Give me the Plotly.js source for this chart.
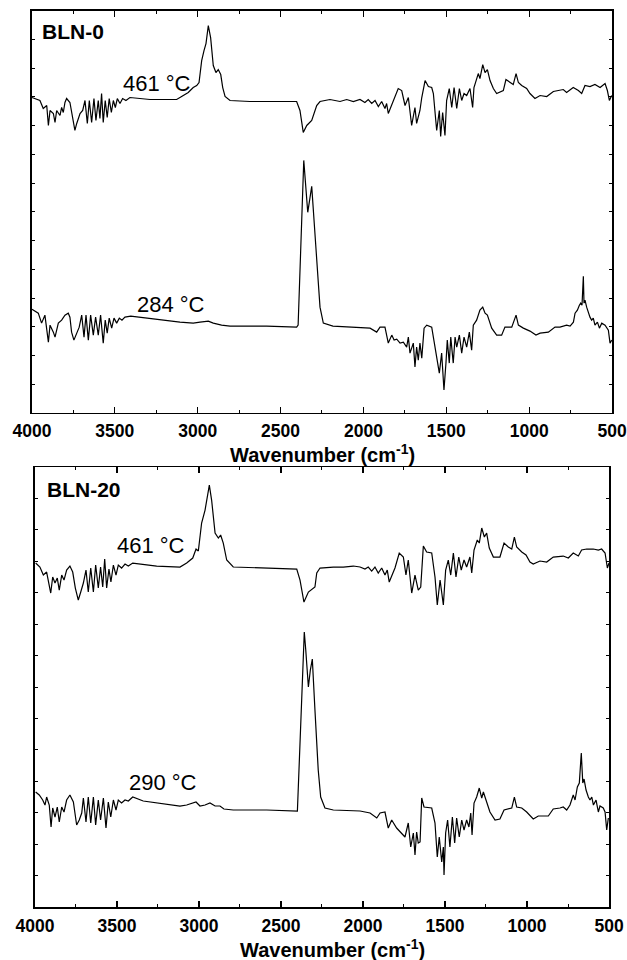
<!DOCTYPE html>
<html>
<head>
<meta charset="utf-8">
<script src="https://cdn.plot.ly/plotly-3.0.1.min.js"></script>
<style>html,body{margin:0;padding:0;background:#fff;}#chart{width:627px;height:960px;}</style>
</head>
<body>
<div id="chart"></div>
<script>
// ---------- BLN-0 panel ----------
var bln0_461_wn = [4000,3952,3932,3911,3901,3891,3871,3861,3851,3831,3821,3811,3801,3791,3771,3754,3741,3730,3710,3694,3680,3666,3654,3640,3626,3614,3600,3590,3580,3570,3558,3546,3534,3521,3509,3497,3485,3469,3453,3433,3409,3288,3127,3097,3057,3027,3006,2992,2976,2962,2950,2936,2922,2906,2890,2876,2861,2849,2835,2805,2685,2403,2383,2363,2342,2312,2302,2282,2262,2202,2141,2101,2061,2021,1991,1971,1950,1930,1910,1890,1870,1860,1850,1820,1790,1769,1749,1729,1709,1689,1679,1659,1648,1628,1608,1588,1578,1558,1542,1534,1522,1508,1498,1482,1467,1453,1437,1421,1407,1393,1377,1357,1341,1333,1307,1297,1280,1266,1252,1236,1216,1196,1156,1140,1116,1096,1079,1065,1045,1015,995,965,934,894,854,794,774,734,703,683,663,633,603,572,542,528,516,502];
var bln0_461_ab = [316,313,305,308,288,303,300,291,303,298,306,301,311,315,311,293,283,290,300,303,313,290,313,291,315,293,313,295,320,291,313,296,315,301,313,306,315,310,315,313,316,314,314,317,321,326,328,331,353,363,370,388,376,348,341,344,339,326,317,313,312,312,303,281,288,293,298,308,312,314,312,314,312,314,311,314,310,313,307,312,305,310,300,313,325,323,308,316,288,306,290,303,316,333,327,326,320,283,303,277,301,278,313,325,306,326,305,325,313,320,318,325,306,326,340,335,349,341,344,333,325,320,323,334,331,329,340,331,328,325,320,315,318,317,322,324,321,326,323,320,328,327,329,326,330,323,313,318];

var bln0_284_wn = [4000,3962,3942,3922,3901,3891,3871,3861,3841,3821,3801,3781,3771,3761,3747,3730,3715,3700,3686,3674,3660,3646,3630,3616,3600,3586,3570,3558,3546,3534,3519,3505,3489,3473,3457,3439,3404,3107,3027,2986,2936,2906,2856,2805,2584,2403,2394,2360,2336,2312,2292,2272,2262,2242,2184,2021,1960,1920,1900,1870,1850,1829,1815,1799,1779,1759,1739,1729,1719,1699,1689,1679,1669,1659,1648,1634,1618,1588,1578,1558,1542,1528,1514,1502,1494,1482,1473,1458,1447,1437,1421,1407,1393,1377,1361,1347,1337,1317,1297,1280,1266,1252,1226,1196,1166,1146,1105,1079,1065,1035,995,959,934,884,844,814,774,753,733,723,709,697,689,681,673,669,663,653,643,633,623,613,603,588,576,562,542,522,512,502];
var bln0_284_ab = [104,100,90,98,71,88,81,76,90,93,98,100,96,81,73,80,86,98,76,98,73,98,78,96,78,98,70,93,80,95,85,95,90,95,93,96,97,91,90,91,92,90,88,87,87,86,88,253,201,227,173,130,106,90,87,86,85,81,86,86,70,78,73,74,70,71,66,76,60,70,46,66,53,70,55,85,88,86,76,56,40,60,23,50,73,50,76,50,76,66,78,60,76,66,81,63,88,93,103,106,100,98,85,78,78,86,86,98,88,85,82,78,80,81,86,86,88,87,91,100,103,108,110,108,137,110,113,106,100,96,93,95,88,91,85,90,88,83,70,73];

// ---------- BLN-20 panel ----------
var bln20_461_wn = [3996,3970,3949,3929,3904,3892,3878,3864,3852,3837,3823,3807,3787,3770,3754,3736,3721,3705,3689,3675,3660,3644,3630,3614,3600,3587,3575,3563,3549,3537,3522,3506,3492,3472,3451,3431,3404,3258,3116,3075,3038,3018,3004,2984,2963,2937,2923,2902,2882,2868,2852,2831,2791,2587,2404,2384,2360,2333,2293,2282,2262,2181,2120,2059,2018,1988,1968,1947,1927,1907,1886,1866,1852,1840,1805,1779,1754,1738,1724,1703,1683,1663,1648,1632,1612,1581,1561,1547,1530,1510,1496,1480,1465,1449,1433,1416,1401,1384,1368,1348,1337,1323,1303,1291,1276,1260,1246,1230,1205,1165,1140,1114,1093,1077,1063,1032,1006,982,962,921,880,840,779,748,718,687,667,636,596,565,545,524,510,500];
var bln20_461_ab = [344,340,332,335,314,330,324,329,317,332,327,337,341,335,319,307,315,324,337,315,339,315,342,319,340,320,348,319,338,325,342,332,342,339,343,341,344,341,340,344,349,358,356,384,397,422,407,374,369,372,364,347,340,339,338,327,305,315,320,334,339,340,340,341,340,338,340,336,340,334,339,332,337,325,339,354,350,332,347,314,332,317,320,361,355,354,330,302,327,302,337,347,332,354,330,350,337,347,340,350,334,357,367,364,379,370,374,359,350,350,364,360,358,370,360,355,352,345,343,346,345,350,351,349,354,351,357,358,358,357,358,354,339,344];

var bln20_290_wn = [3996,3974,3953,3939,3929,3913,3902,3892,3878,3864,3852,3837,3823,3807,3787,3766,3746,3730,3715,3705,3689,3675,3660,3644,3630,3614,3600,3583,3567,3553,3538,3522,3506,3492,3472,3451,3431,3404,3340,3238,3116,3075,3018,2994,2963,2933,2902,2872,2848,2791,2587,2400,2358,2349,2333,2321,2309,2293,2287,2273,2258,2232,2181,2018,1957,1916,1896,1866,1846,1825,1795,1774,1744,1724,1709,1693,1683,1673,1663,1652,1642,1628,1581,1561,1547,1535,1520,1510,1506,1496,1484,1470,1455,1441,1429,1413,1398,1384,1368,1354,1343,1335,1323,1307,1291,1276,1266,1250,1226,1195,1165,1140,1093,1077,1063,1032,1002,962,931,870,840,799,779,758,738,718,707,693,681,669,660,652,640,626,616,605,595,579,565,555,535,524,514,504];
var bln20_290_ab = [115,112,107,102,110,102,80,99,90,100,85,100,95,107,112,105,82,87,94,109,85,110,84,110,82,107,87,109,79,105,90,107,97,107,104,107,106,110,106,104,101,102,105,101,102,104,101,101,98,97,97,96,275,257,220,237,248,197,177,137,110,99,97,96,94,89,94,95,79,87,79,75,70,84,60,74,52,75,64,65,109,100,99,84,50,70,45,60,32,74,87,60,90,64,89,70,87,77,87,80,94,72,104,110,119,109,115,107,95,87,88,97,99,110,100,99,95,88,91,91,98,99,100,97,102,112,107,120,124,154,124,128,117,110,107,110,102,107,95,101,99,95,77,89];

// labels
var panelNames = ["BLN-0", "BLN-20"];
var tempLabels = ["461 °C", "284 °C", "461 °C", "290 °C"];
var xTitle = "Wavenumber (cm<sup>-1</sup>)";

var lineStyle = {color: "#000", width: 1.2};
function tr(x, y, xa, ya) {
  return {x: x, y: y, type: "scatter", mode: "lines", line: lineStyle, xaxis: xa, yaxis: ya, hoverinfo: "skip", showlegend: false};
}
var data = [
  tr(bln0_461_wn, bln0_461_ab, "x", "y"),
  tr(bln0_284_wn, bln0_284_ab, "x", "y"),
  tr(bln20_461_wn, bln20_461_ab, "x2", "y2"),
  tr(bln20_290_wn, bln20_290_ab, "x2", "y2")
];

var tickFont = {family: "Liberation Sans, Arial, sans-serif", size: 17.5, weight: "bold", color: "#000"};
function xax(domain, anchor) {
  return {
    domain: domain, anchor: anchor, range: [4000, 500], autorange: false,
    showline: true, linecolor: "#000", linewidth: 1.5, mirror: "ticks",
    ticks: "inside", ticklen: 6, tickwidth: 1.2, tickcolor: "#000",
    tick0: 0, dtick: 500,
    minor: {dtick: 250, ticks: "inside", ticklen: 3, tickwidth: 1, tickcolor: "#000", showgrid: false},
    showgrid: false, zeroline: false, tickfont: tickFont, ticklabelstandoff: 2
  };
}
function yax(domain, anchor, top) {
  return {
    domain: domain, anchor: anchor, range: [0, top], autorange: false,
    showline: true, linecolor: "#000", linewidth: 1.5, mirror: "ticks",
    ticks: "inside", ticklen: 3, tickwidth: 1, tickcolor: "#000",
    tick0: 0, dtick: top / 14, showticklabels: false,
    showgrid: false, zeroline: false
  };
}

function ann(text, x, y, size, bold, xanchor) {
  return {text: text, xref: "paper", yref: "paper", x: x, y: y, xanchor: xanchor || "left", yanchor: "middle",
    showarrow: false, font: {family: "Liberation Sans, Arial, sans-serif", size: size, color: "#000", weight: bold ? "bold" : "normal"}};
}

var layout = {
  width: 627, height: 960,
  margin: {l: 0, r: 0, t: 0, b: 0},
  paper_bgcolor: "#fff", plot_bgcolor: "#fff",
  showlegend: false,
  xaxis: xax([0.0510, 0.9761], "y"),
  yaxis: yax([0.5698, 0.9889], "x", 403),
  xaxis2: xax([0.0558, 0.9713], "y2"),
  yaxis2: yax([0.0552, 0.5135], "x2", 440),
  annotations: [
    ann(panelNames[0], 0.064, 0.9677, 21, true),
    ann(tempLabels[0], 0.193, 0.9130, 22, false),
    ann(tempLabels[1], 0.215, 0.6833, 22, false),
    ann(panelNames[1], 0.072, 0.4901, 21, true),
    ann(tempLabels[2], 0.184, 0.4313, 22, false),
    ann(tempLabels[3], 0.203, 0.1844, 22, false),
    ann(xTitle, 0.5136, 0.528, 20, true, "center"),
    ann(xTitle, 0.530, 0.0115, 20, true, "center")
  ]
};

Plotly.newPlot("chart", data, layout, {staticPlot: true, displayModeBar: false});
</script>
</body>
</html>
